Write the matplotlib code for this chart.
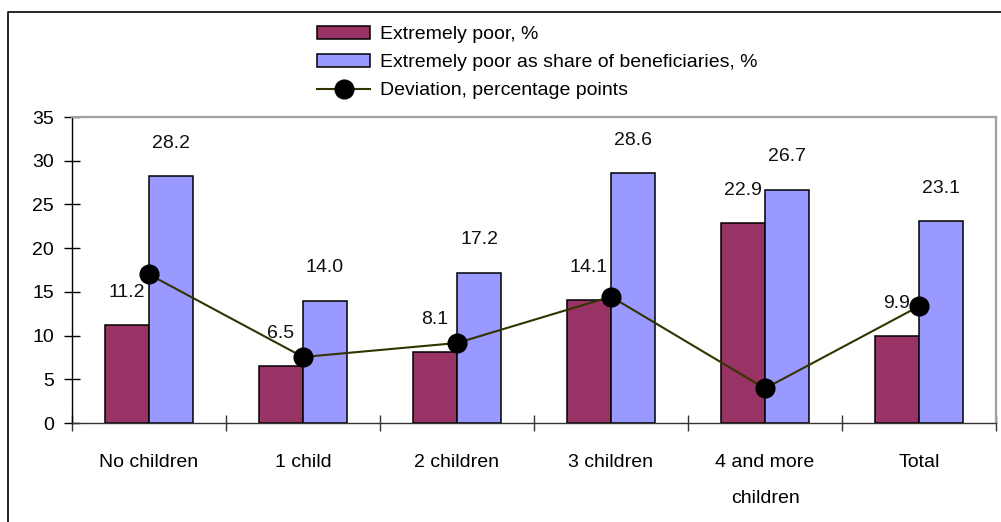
import matplotlib
matplotlib.use("Agg")
import matplotlib.pyplot as plt
from matplotlib.lines import Line2D
import numpy as np

categories = ["No children", "1 child", "2 children", "3 children", "4 and more\nchildren", "Total"]
extremely_poor = [11.2, 6.5, 8.1, 14.1, 22.9, 9.9]
share_beneficiaries = [28.2, 14.0, 17.2, 28.6, 26.7, 23.1]
deviation = [17.0, 7.55, 9.15, 14.45, 3.95, 13.35]
yticks = [0, 5, 10, 15, 20, 25, 30, 35]

plt.rcParams['font.family'] = ['Liberation Sans', 'DejaVu Sans']
FS = 14

W, H = 1001, 522
fig = plt.figure(figsize=(W / 100, H / 100), dpi=100)
ax = fig.add_axes([72 / W, 1 - 423 / H, (996 - 72) / W, (423 - 117) / H])

x = np.arange(len(categories))
bw = 44 / 154
b1 = ax.bar(x - bw / 2, extremely_poor, bw, color="#993366", edgecolor="black", linewidth=1.1,
            label="Extremely poor, %", zorder=2)
b2 = ax.bar(x + bw / 2, share_beneficiaries, bw, color="#9999FF", edgecolor="black", linewidth=1.1,
            label="Extremely poor as share of beneficiaries, %", zorder=2)
ln, = ax.plot(x, deviation, color="#333300", linewidth=1.5, marker="o", markersize=13.5,
              markerfacecolor="black", markeredgecolor="black", label="Deviation, percentage points", zorder=3)

for xs, vals in ((x - bw / 2, extremely_poor), (x + bw / 2, share_beneficiaries)):
    for xi, v in zip(xs, vals):
        ax.annotate(f"{v:.1f}", (xi, v), xytext=(0, 23.5), textcoords="offset points",
                    ha="center", va="center", fontsize=FS, color="#111111", zorder=4)

ax.set_xlim(-0.5, len(categories) - 0.5)
ax.set_ylim(0, 35)
ax.set_yticks(yticks)
ax.set_yticklabels([str(t) for t in yticks], fontsize=FS)
ax.tick_params(axis="y", direction="inout", length=12, width=1, pad=7, colors="black")
ax.set_xticks(x)
ax.set_xticklabels(categories, fontsize=FS, linespacing=2.5)
ax.set_xticks(np.arange(len(categories) + 1) - 0.5, minor=True)
ax.tick_params(axis="x", which="major", length=0, pad=22)
ax.tick_params(axis="x", which="minor", direction="inout", length=12, width=1, color="#333333")

for side in ("top", "right"):
    ax.spines[side].set_color("#a0a0a0")
    ax.spines[side].set_linewidth(1.6)
ax.spines["left"].set_color("black")
ax.spines["bottom"].set_color("#333333")
ax.spines["left"].set_linewidth(1.0)
ax.spines["bottom"].set_linewidth(1.0)

fig.legend(handles=[b1, b2, ln], loc="upper left", bbox_to_anchor=(317 / W, 1 - 26 / H),
           frameon=False, fontsize=FS, handlelength=2.75, handleheight=0.62, handletextpad=0.5,
           labelspacing=0.56, borderpad=0, borderaxespad=0)

# outer chart-area border (top and left)
fig.add_artist(Line2D([8 / W, 8 / W, 1.0], [0.0, 1 - 11.5 / H, 1 - 11.5 / H],
                      transform=fig.transFigure, color="black", linewidth=1.2))

fig.savefig("out.png", dpi=100)
